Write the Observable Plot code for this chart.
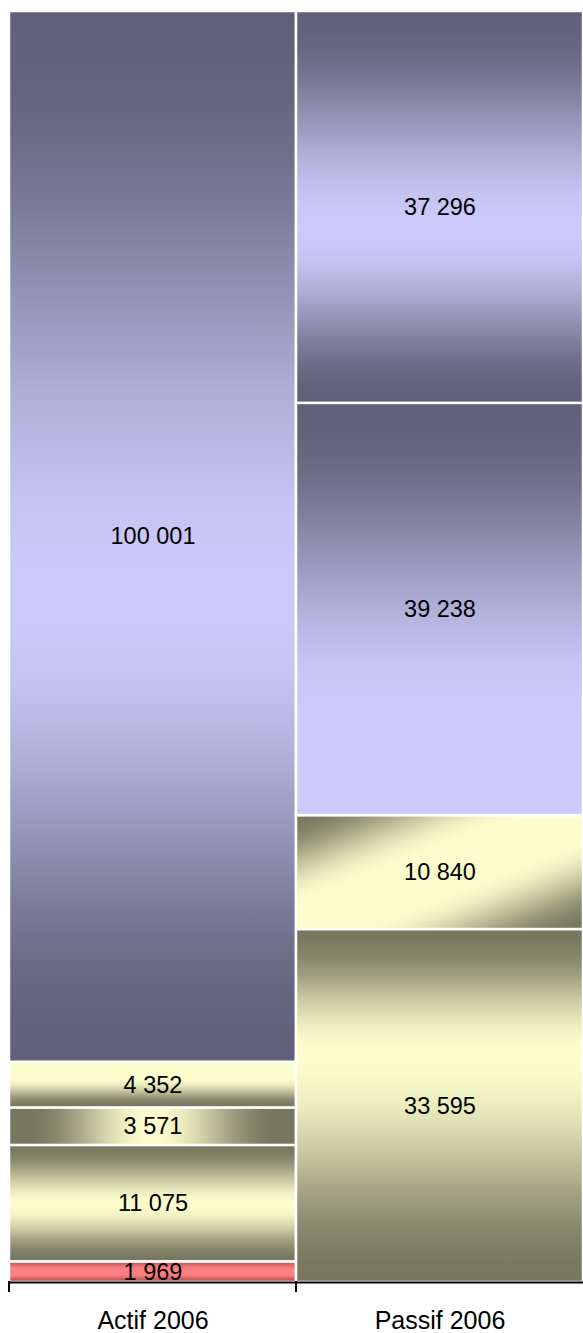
<!DOCTYPE html>
<html>
<head>
<meta charset="utf-8">
<script src="https://cdn.jsdelivr.net/npm/d3@7"></script>
<script src="https://cdn.jsdelivr.net/npm/@observablehq/plot@0.6"></script>
<style>
  html, body { margin: 0; padding: 0; background: #fff; }
  svg { display: block; }
</style>
</head>
<body>
<div id="chart"></div>
<script>
// ---- data (stacked bottom to top) ----
const categories = ["Actif 2006", "Passif 2006"];
const actifValues = [1969, 11075, 3571, 4352, 100001];
const passifValues = [33595, 10840, 39238, 37296];

// ---- styles (gradient per segment, same order as values) ----
const actifFills = ["gRed", "gOliveMid", "gOliveH", "gOliveDown", "gBlueMid"];
const passifFills = ["gOliveHigh", "gOliveDiag", "gBlueUp", "gBlueMid"];

const BD = "#606078", BL = "#cbcbfb", OD = "#77775f", OL = "#fcfccc";
const gradients = [
  {id: "gBlueMid", x2: 0, y2: 1, keys: [[0, BD], [0.56, BL], [1, BD]]},
  {id: "gBlueUp", x2: 0, y2: 1, keys: [[0, BD], [0.75, BL], [1, BL]]},
  {id: "gOliveMid", x2: 0, y2: 1, keys: [[0, OD], [0.52, OL], [1, OD]]},
  {id: "gOliveHigh", x2: 0, y2: 1, keys: [[0, OD], [0.35, OL], [1, OD]]},
  {id: "gOliveDown", x2: 0, y2: 1, keys: [[0, OL], [0.35, OL], [1, OD]]},
  {id: "gOliveH", x2: 1, y2: 0, keys: [[0, OD], [0.06, OD], [0.5, OL], [0.94, OD], [1, OD]]},
  {id: "gOliveDiag", x2: 1, y2: 1, keys: [[0, OD], [0.4, OL], [0.6, OL], [1, OD]]},
  {id: "gRed", x2: 0, y2: 1, keys: [[0, "#c05a5a"], [0.4, "#ff8080"], [0.6, "#ff8080"], [1, "#b85050"]]}
];

const rows = [
  ...actifValues.map((v, i) => ({cat: categories[0], value: v, fill: `url(#${actifFills[i]})`})),
  ...passifValues.map((v, i) => ({cat: categories[1], value: v, fill: `url(#${passifFills[i]})`}))
];

const fmt = v => String(v).replace(/\B(?=(\d{3})+(?!\d))/g, " ");
const total = d3.max([d3.sum(actifValues), d3.sum(passifValues)]);

const plot = Plot.plot({
  width: 583,
  height: 1333,
  marginTop: 11,
  marginBottom: 51,
  marginLeft: 9,
  marginRight: 0,
  style: {fontFamily: "'Liberation Sans', Arial, Helvetica, sans-serif", background: "white", color: "black"},
  x: {domain: categories, padding: 0, axis: null},
  y: {domain: [0, total], axis: null},
  color: {type: "identity"},
  marks: [
    Plot.barY(rows, {x: "cat", y: "value", fill: "fill", stroke: "white", strokeWidth: 2.5}),
    Plot.text(rows, Plot.stackY({x: "cat", y: "value", text: d => fmt(d.value), fontSize: 23.5, fill: "black"})),
    Plot.ruleY([0], {stroke: "black", strokeWidth: 2}),
    Plot.axisX({tickSize: 0, tickPadding: 29, fontSize: 25, fill: "black", label: null}),
    (index, scales, values, dims) => {
      const g = d3.create("svg:g");
      const y0 = dims.height - dims.marginBottom;
      categories.forEach(c => {
        const x0 = scales.x(c);
        g.append("line")
          .attr("x1", x0).attr("x2", x0)
          .attr("y1", y0 - 1).attr("y2", y0 + 10)
          .attr("stroke", "black").attr("stroke-width", 2);
      });
      return g.node();
    }
  ]
});

// smooth (eased) gradient stops between key colours
const defs = d3.select(plot).insert("defs", ":first-child");
gradients.forEach(gr => {
  const lg = defs.append("linearGradient")
    .attr("id", gr.id)
    .attr("x1", 0).attr("y1", 0).attr("x2", gr.x2).attr("y2", gr.y2);
  for (let k = 0; k < gr.keys.length - 1; k++) {
    const [o0, c0] = gr.keys[k], [o1, c1] = gr.keys[k + 1];
    const interp = d3.interpolateRgb(c0, c1);
    const n = 12;
    for (let s = (k === 0 ? 0 : 1); s <= n; s++) {
      const t = s / n;
      lg.append("stop")
        .attr("offset", o0 + (o1 - o0) * t)
        .attr("stop-color", interp(d3.easeSinInOut(t)));
    }
  }
});

document.getElementById("chart").appendChild(plot);
</script>
</body>
</html>
